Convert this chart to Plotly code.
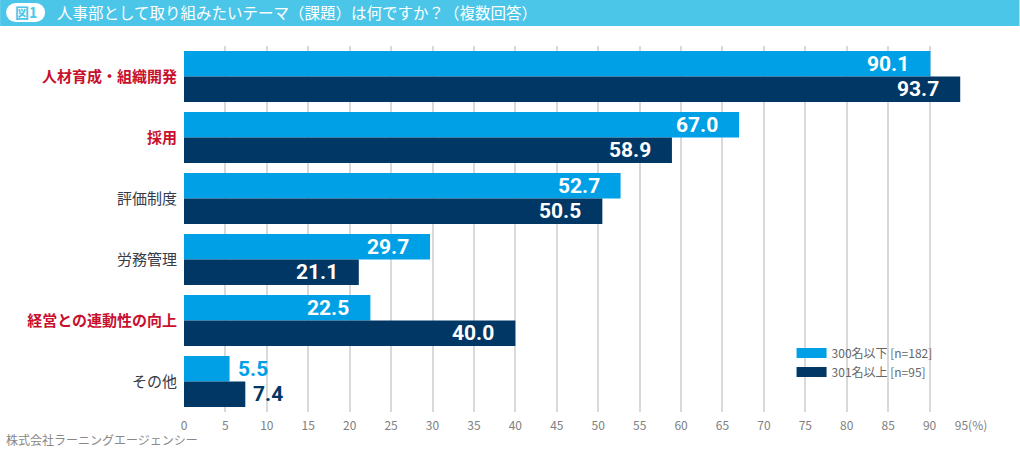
import plotly.graph_objects as go

# Data
categories = [
    "人材育成・組織開発",
    "採用",
    "評価制度",
    "労務管理",
    "経営との連動性の向上",
    "その他",
]
highlight = [True, True, False, False, True, False]
small_values = [90.1, 67.0, 52.7, 29.7, 22.5, 5.5]   # 300名以下 [n=182]
large_values = [93.7, 58.9, 50.5, 21.1, 40.0, 7.4]   # 301名以上 [n=95]
series_names = ["300名以下 [n=182]", "301名以上 [n=95]"]
x_ticks = list(range(0, 100, 5))
x_tick_labels = [str(t) for t in x_ticks[:-1]] + ["95(%)"]

LIGHT = "#00a0e6"
DARK = "#003764"
CYAN = "#4bc6e8"
RED = "#c8102e"
GRAY_TXT = "#353b48"
JP_FONT = "Noto Sans CJK JP"
NUM_FONT = "Roboto"

W, H = 1020, 454
ML, MR, MT, MB = 184, 48.5, 46, 42
plot_w = W - ML - MR
plot_h = H - MT - MB


def px_x(p):
    return (p - ML) / plot_w


def px_y(p):
    return 1 - (p - MT) / plot_h


tick_text = [
    f"<b><span style='color:{RED}'>{c}</span></b>" if h else c
    for c, h in zip(categories, highlight)
]

fig = go.Figure()
for name, vals, color in [
    (series_names[0], small_values, LIGHT),
    (series_names[1], large_values, DARK),
]:
    fig.add_trace(go.Bar(
        x=vals, y=categories, orientation="h", name=name,
        marker=dict(color=color, line=dict(width=0)),
        showlegend=False, hoverinfo="x+y",
    ))
    # legend stand-in: wide flat swatch like the reference
    fig.add_trace(go.Scatter(
        x=[None], y=[None], mode="lines", name=name,
        line=dict(color=color, width=11),
    ))

# value labels: inside the bar end, or just outside for short bars
annotations = []
for trace_idx, (vals, color) in enumerate([(small_values, LIGHT), (large_values, DARK)]):
    for cat, v in zip(categories, vals):
        inside = v >= 15
        annotations.append(dict(
            x=v, y=cat, xref="x", yref="y",
            text=f"<b>{v:.1f}</b>",
            showarrow=False,
            xanchor="right" if inside else "left",
            xshift=-19 if inside else 6,
            yshift=12.8 if trace_idx == 0 else -12.8,
            font=dict(family=NUM_FONT, size=21, color="white" if inside else color),
        ))

# header and footer texts
annotations.append(dict(
    x=px_x(25.5), y=px_y(12.5), xref="paper", yref="paper",
    xanchor="center", yanchor="middle",
    text="<b>図1</b>", showarrow=False,
    font=dict(family=JP_FONT, size=14, color=CYAN),
))
annotations.append(dict(
    x=px_x(55), y=px_y(12.5), xref="paper", yref="paper",
    xanchor="left", yanchor="middle",
    text="人事部として取り組みたいテーマ（課題）は何ですか？（複数回答）",
    showarrow=False,
    font=dict(family=JP_FONT, size=15.5, color="white"),
))
annotations.append(dict(
    x=px_x(4), y=px_y(439), xref="paper", yref="paper",
    xanchor="left", yanchor="middle",
    text="株式会社ラーニングエージェンシー", showarrow=False,
    font=dict(family=JP_FONT, size=12, color="#888888"),
))

shapes = [
    # cyan title band
    dict(type="rect", xref="paper", yref="paper",
         x0=px_x(0), x1=px_x(W), y0=px_y(26), y1=px_y(0),
         line=dict(width=0), fillcolor=CYAN),
    # white pill behind 図1
    dict(type="rect", xref="paper", yref="paper",
         x0=px_x(15.5), x1=px_x(35.5), y0=px_y(22), y1=px_y(3),
         line=dict(width=0), fillcolor="white"),
    dict(type="circle", xref="paper", yref="paper",
         x0=px_x(6), x1=px_x(25), y0=px_y(22), y1=px_y(3),
         line=dict(width=0), fillcolor="white"),
    dict(type="circle", xref="paper", yref="paper",
         x0=px_x(26), x1=px_x(45), y0=px_y(22), y1=px_y(3),
         line=dict(width=0), fillcolor="white"),
]

fig.update_layout(
    width=W, height=H,
    margin=dict(l=ML, r=MR, t=MT, b=MB),
    paper_bgcolor="white", plot_bgcolor="white",
    barmode="group", bargap=0.164, bargroupgap=0,
    font=dict(family=JP_FONT, color=GRAY_TXT),
    annotations=annotations,
    shapes=shapes,
    legend=dict(
        x=0.772, y=0.135, xanchor="left", yanchor="middle",
        font=dict(family=JP_FONT, size=12, color="#666666"),
        bgcolor="rgba(255,255,255,0)", tracegroupgap=2,
        itemwidth=30,
    ),
    xaxis=dict(
        range=[0, 95], tickvals=x_ticks, ticktext=x_tick_labels,
        showgrid=True, gridcolor="#d9d9d9", gridwidth=1.5,
        zeroline=False, showline=False, ticks="",
        tickfont=dict(family=JP_FONT, size=12, color="#808080"),
        ticklabelstandoff=5, fixedrange=True,
    ),
    yaxis=dict(
        autorange="reversed", tickvals=categories, ticktext=tick_text,
        showgrid=False, zeroline=False, ticks="",
        tickfont=dict(family=JP_FONT, size=15, color=GRAY_TXT),
        ticklabelstandoff=6, fixedrange=True,
    ),
)

fig.write_html(
    "out.html",
    config={"displayModeBar": False},
    post_script="document.body.style.margin='0';",
)
